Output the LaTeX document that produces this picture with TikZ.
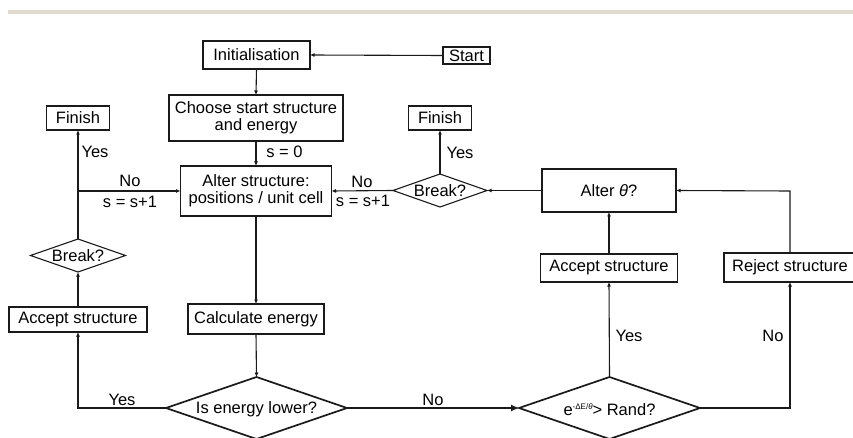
\documentclass[tikz,border=0pt]{standalone}
\usepackage{fontspec}
\setmainfont{Liberation Sans}
\usetikzlibrary{arrows.meta,shapes.geometric}
\definecolor{barcol}{HTML}{DFDACB}
\definecolor{ink}{HTML}{1A1A1A}
\begin{document}
\begin{tikzpicture}[x=1pt,y=-1pt,
  every node/.style={font=\fontsize{16.5}{19}\selectfont, text=black},
  box/.style={draw=ink, line width=1.1pt, rectangle, inner sep=0pt, outer sep=0pt, align=center},
  dia/.style={draw=ink, line width=1.1pt, diamond, inner sep=0pt, outer sep=0pt},
  bigdia/.style={dia, line width=1.7pt},
  conn/.style={draw=ink, line width=1.1pt, -{Latex[length=4.5pt,width=4pt]}},
  plain/.style={draw=ink, line width=1.1pt},
  lbl/.style={inner sep=0pt}]
\useasboundingbox (0,0) rectangle (853,438);
\fill[barcol] (8,10) rectangle (853,14);

% nodes
\node[box, minimum width=107pt, minimum height=28pt] (init) at (256.5,55) {Initialisation};
\node[box, minimum width=47pt, minimum height=17pt] (start) at (466.5,55.5) {Start};
\node[box, minimum width=174pt, minimum height=46pt] (choose) at (256,118) {Choose start structure\\[-2pt]and energy};
\node[box, minimum width=151pt, minimum height=50pt] (alter) at (256,191) {Alter structure:\\[-2pt]positions / unit cell};
\node[box, minimum width=63pt, minimum height=24pt] (finm) at (440,118) {Finish};
\node[dia, minimum width=94pt, minimum height=33pt] (brkm) at (440,190.5) {};
\node[lbl] (brkmt) at (440,191) {Break?};
\node[box, minimum width=134pt, minimum height=43pt] (altert) at (609,190.5) {Alter \textit{θ}?};
\node[box, minimum width=63pt, minimum height=24pt] (finl) at (78,118) {Finish};
\node[dia, minimum width=95pt, minimum height=33pt] (brkl) at (78,255.5) {};
\node[lbl] (brklt) at (78,256) {Break?};
\node[box, minimum width=138pt, minimum height=25pt] (accl) at (78,319.5) {Accept structure};
\node[box, minimum width=136pt, minimum height=30pt] (calc) at (256,319) {Calculate energy};
\node[bigdia, minimum width=181pt, minimum height=62pt] (lower) at (256.5,408) {};
\node[lbl] (lowert) at (256.5,409) {Is energy lower?};
\node[bigdia, minimum width=181pt, minimum height=62pt] (erand) at (609.5,408) {};
\node[lbl] (erandt) at (609.5,410) {e\raisebox{6pt}{\fontsize{8}{8}\selectfont -ΔE/\textit{θ}}> Rand?};
\node[box, minimum width=137pt, minimum height=28pt] (accr) at (609,268) {Accept structure};
\node[box, minimum width=132pt, minimum height=29pt] (rej) at (790,267.5) {Reject structure};

\coordinate (jl) at (78,191);
\coordinate (cl) at (78,408);
\coordinate (cr) at (790,408);
\coordinate (cu) at (790,191);

% connectors
\draw[conn] (start.west) -- (init.east);
\draw[conn] (init.south) -- (choose.north);
\draw[conn] (choose.south) -- (alter.north);
\draw[conn] (alter.south) -- (calc.north);
\draw[conn] (calc.south) -- (lower.north);
\draw[conn] (lower.west) -- (cl) -- (accl.south);
\draw[conn] (accl.north) -- (brkl.south);
\draw[conn] (brkl.north) -- (finl.south);
\draw[conn] (jl) -- (alter.west);
\draw[plain, -{Latex[length=8pt,width=7pt]}] (lower.east) -- (erand.west);
\draw[conn] (erand.north) -- (accr.south);
\draw[conn] (erand.east) -- (cr) -- (rej.south);
\draw[conn] (accr.north) -- (altert.south);
\draw[conn] (rej.north) -- (cu) -- (altert.east);
\draw[conn] (altert.west) -- (brkm.east);
\draw[conn] (brkm.west) -- (alter.east);
\draw[conn] (brkm.north) -- (finm.south);

% labels
\node[lbl] (l1) at (284.5,152) {s = 0};
\node[lbl] (l2) at (460,153) {Yes};
\node[lbl] (l3) at (362,182) {No};
\node[lbl] (l4) at (363,201) {s = s+1};
\node[lbl] (l5) at (95,152) {Yes};
\node[lbl] (l6) at (130,181) {No};
\node[lbl] (l7) at (130,202) {s = s+1};
\node[lbl] (l8) at (122,400) {Yes};
\node[lbl] (l9) at (433,400) {No};
\node[lbl] (l10) at (629,336) {Yes};
\node[lbl] (l11) at (773,336) {No};
\end{tikzpicture}
\end{document}
